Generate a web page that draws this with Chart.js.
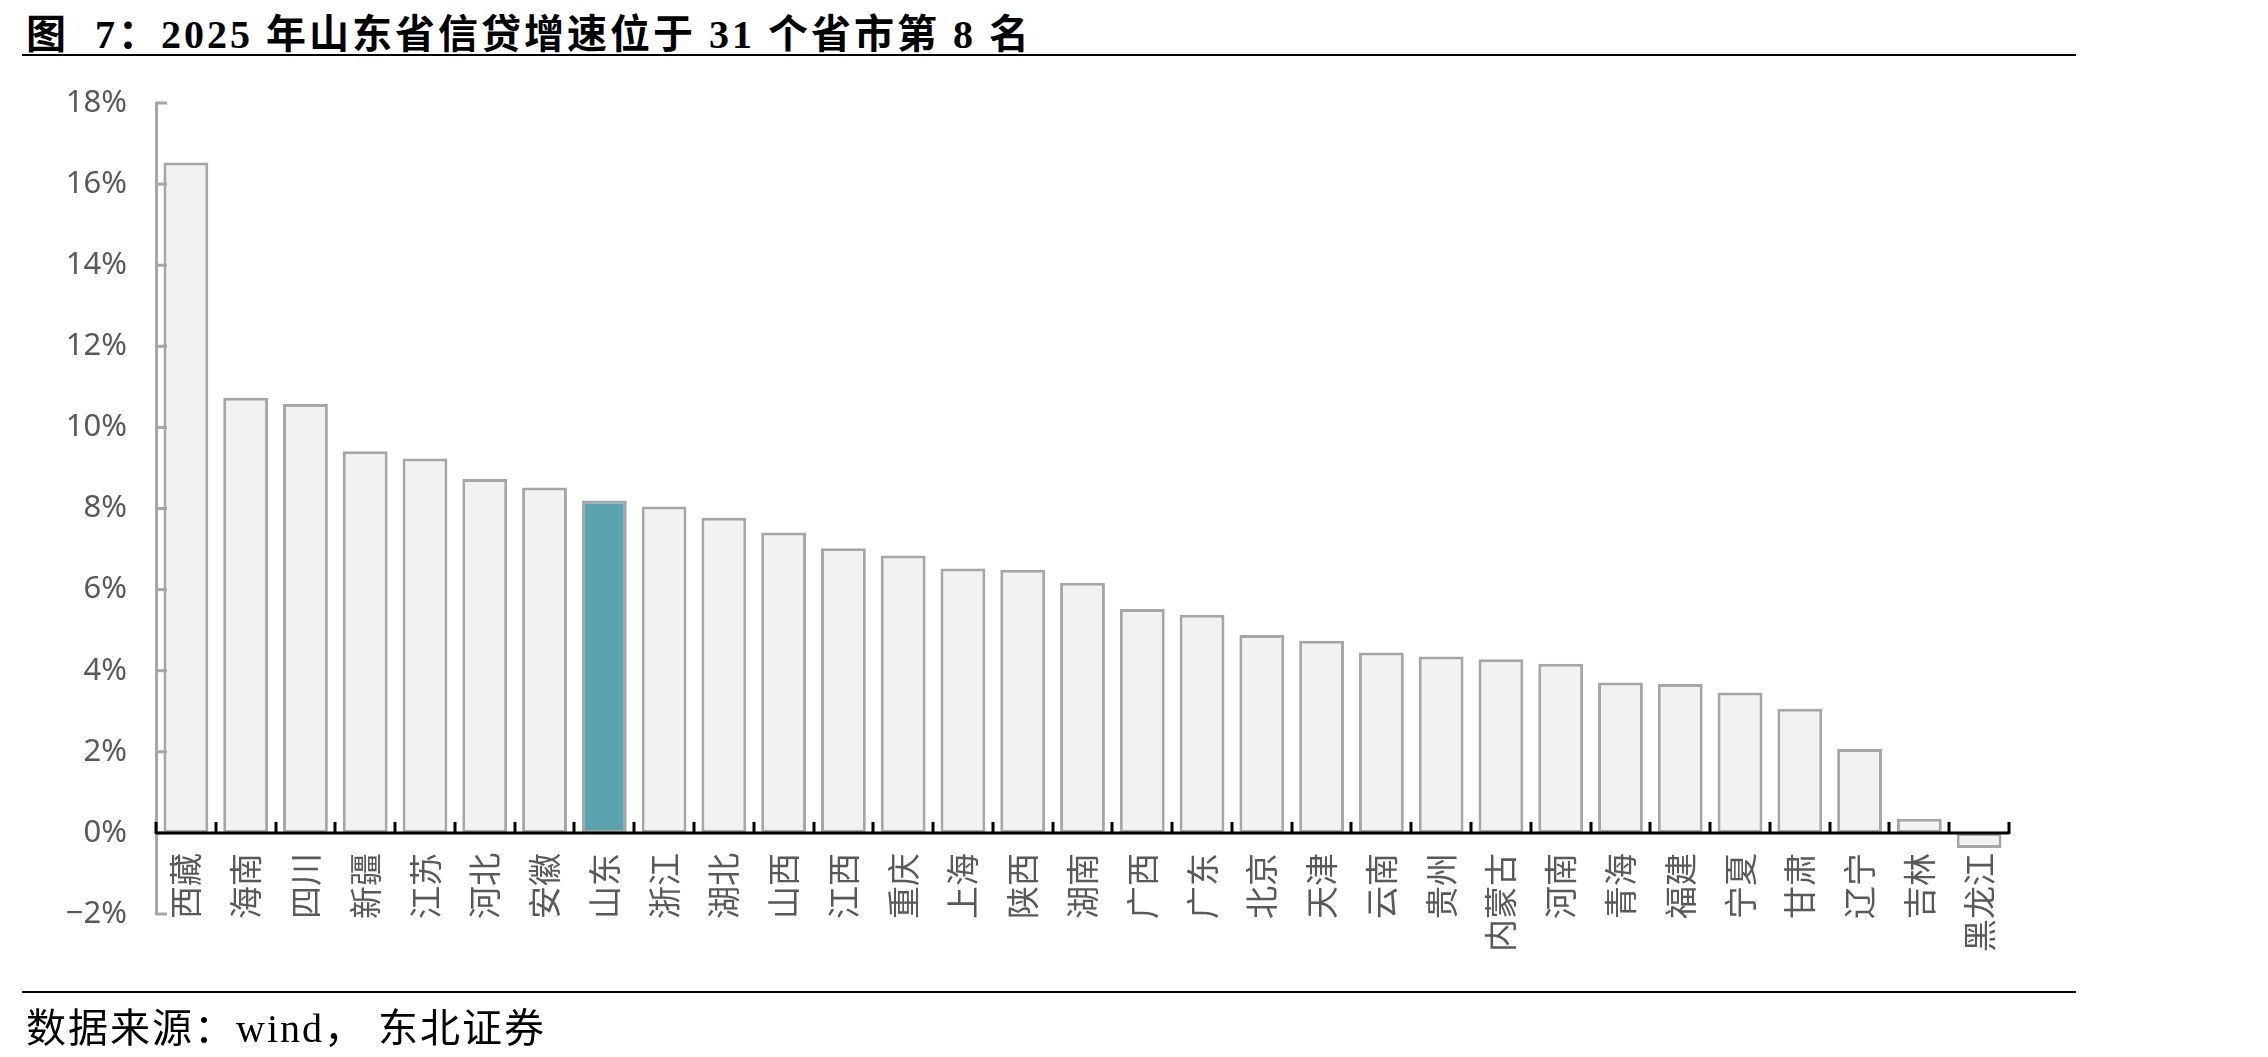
<!DOCTYPE html>
<html>
<head>
<meta charset="utf-8">
<script src="https://cdn.jsdelivr.net/npm/chart.js@4"></script>
<style>
  body { margin: 0; background: #fff; }
  #wrap { position: relative; width: 2268px; height: 1057px; overflow: hidden; }
  #titulo { position: absolute; left: 26px; top: 2px; font-family: "Liberation Serif", "Noto Sans CJK SC", serif; font-weight: bold; font-size: 40px; letter-spacing: 3px; color: #000; white-space: pre; }
  .linha { position: absolute; left: 22px; width: 2054px; height: 2px; background: #000; }
  #fonte { position: absolute; left: 26px; top: 996px; font-family: "Liberation Serif", "Noto Sans CJK SC", serif; font-size: 40px; letter-spacing: 2px; color: #000; white-space: pre; }
  #grafico { position: absolute; left: 0; top: 0; }
</style>
</head>
<body>
<div id="wrap">
  <div id="titulo">图  7：2025 年山东省信贷增速位于 31 个省市第 8 名</div>
  <div class="linha" style="top:54px"></div>
  <canvas id="grafico" width="2268" height="1057"></canvas>
  <div class="linha" style="top:991px"></div>
  <div id="fonte">数据来源：wind， 东北证券</div>
</div>
<script>
// provincias e crescimento do credito (%)
const provincias = ["西藏","海南","四川","新疆","江苏","河北","安徽","山东","浙江","湖北","山西","江西","重庆","上海","陕西","湖南","广西","广东","北京","天津","云南","贵州","内蒙古","河南","青海","福建","宁夏","甘肃","辽宁","吉林","黑龙江"];
const crescimento = [16.53, 10.73, 10.58, 9.41, 9.23, 8.73, 8.52, 8.20, 8.05, 7.77, 7.41, 7.02, 6.84, 6.52, 6.49, 6.17, 5.52, 5.38, 4.88, 4.74, 4.45, 4.35, 4.28, 4.17, 3.71, 3.67, 3.46, 3.06, 2.07, 0.35, -0.37];
const destaque = "山东";

// ticks para dentro, linha do zero preta e rotulos verticais
const eixoPlugin = {
  id: "eixoPlugin",
  afterDatasetsDraw(chart) {
    const ctx = chart.ctx;
    const x = chart.scales.x, y = chart.scales.y;
    const area = chart.chartArea;
    ctx.save();
    // ticks do eixo y
    ctx.strokeStyle = "#a6a6a6";
    ctx.lineWidth = 3;
    y.ticks.forEach(t => {
      const py = y.getPixelForValue(t.value);
      ctx.beginPath();
      ctx.moveTo(area.left, py);
      ctx.lineTo(area.left + 11, py);
      ctx.stroke();
    });
    // linha do zero
    const y0 = y.getPixelForValue(0);
    ctx.strokeStyle = "#000";
    ctx.lineWidth = 3;
    ctx.beginPath();
    ctx.moveTo(area.left, y0);
    ctx.lineTo(area.right, y0);
    ctx.stroke();
    const passo = (area.right - area.left) / provincias.length;
    for (let i = 0; i <= provincias.length; i++) {
      const px = Math.round(area.left + i * passo);
      ctx.beginPath();
      ctx.moveTo(px, y0 + 1);
      ctx.lineTo(px, y0 - 11);
      ctx.stroke();
    }
    // rotulos
    ctx.fillStyle = "#595959";
    ctx.font = "33px 'Noto Sans CJK SC'";
    ctx.textAlign = "right";
    ctx.textBaseline = "middle";
    provincias.forEach((p, i) => {
      ctx.save();
      ctx.translate(x.getPixelForValue(i), y0 + 20);
      ctx.rotate(-Math.PI / 2);
      ctx.fillText(p, 0, 0);
      ctx.restore();
    });
    ctx.restore();
  }
};

new Chart(document.getElementById("grafico"), {
  type: "bar",
  data: {
    labels: provincias,
    datasets: [{
      data: crescimento,
      backgroundColor: provincias.map(p => p === destaque ? "#5aa3ae" : "#f2f2f2"),
      borderColor: "#a6a6a6",
      borderWidth: 3,
      borderSkipped: false,
      barPercentage: 0.75,
      categoryPercentage: 1
    }]
  },
  options: {
    responsive: false,
    animation: false,
    layout: { padding: { top: 103, bottom: 143, left: 0, right: 259 } },
    plugins: { legend: { display: false }, tooltip: { enabled: false } },
    scales: {
      x: { display: false },
      y: {
        min: -2, max: 18,
        afterFit: s => { s.width = 156; },
        border: { display: true, color: "#a6a6a6", width: 3 },
        grid: { display: false, drawTicks: false, tickLength: 0 },
        ticks: {
          stepSize: 2,
          padding: 29,
          color: "#595959",
          font: { family: "'Noto Sans'", size: 31 },
          callback: v => (v < 0 ? "\u2212" + Math.abs(v) : v) + "%"
        }
      }
    }
  },
  plugins: [eixoPlugin]
});
</script>
</body>
</html>
